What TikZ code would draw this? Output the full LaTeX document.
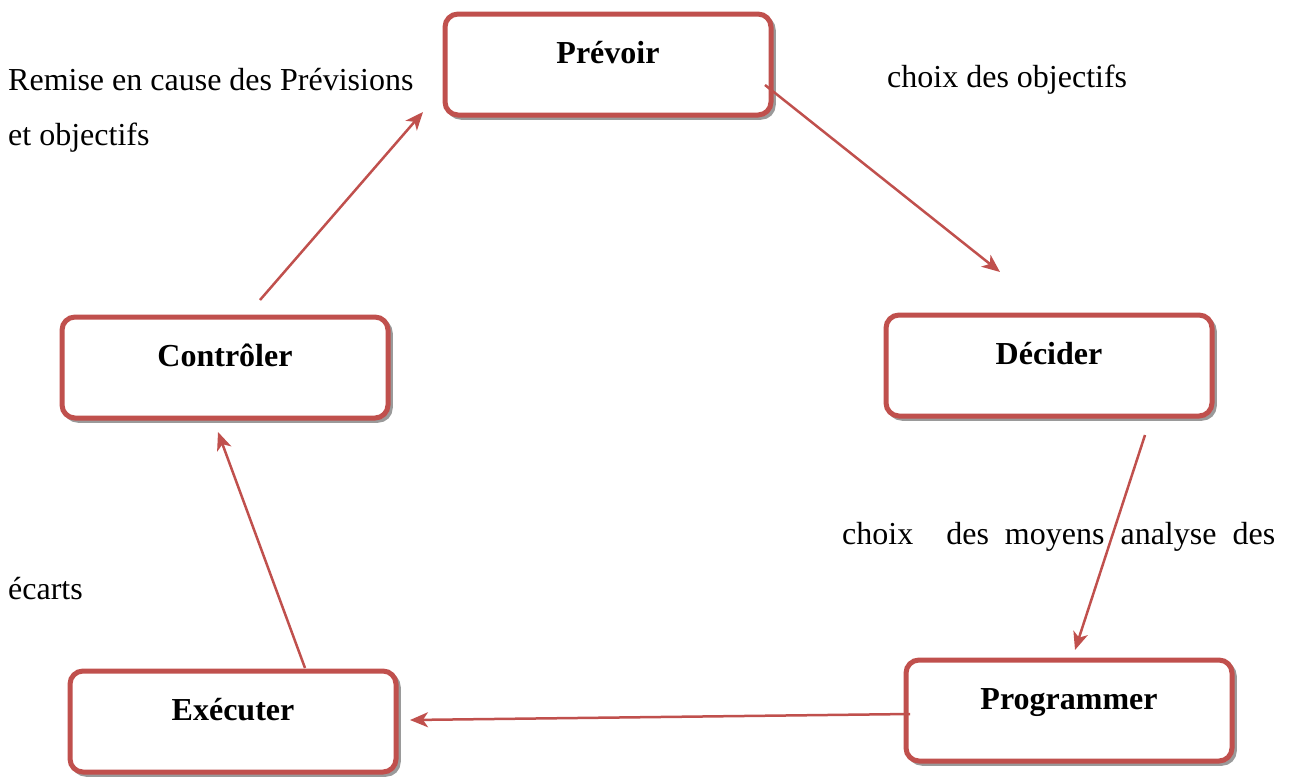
\documentclass[tikz,border=0pt]{standalone}
\usepackage{fontspec}
\setmainfont{Liberation Serif}
\usetikzlibrary{arrows.meta,shadows,calc}
\definecolor{boxred}{HTML}{C0504D}
\definecolor{shade}{HTML}{9A9A9A}
\tikzset{
  stagebox/.style={draw=boxred, line width=5pt, fill=white, rounded corners=13pt,
    minimum width=326pt, inner sep=0pt, outer sep=0pt,
    text height=49pt, text depth=52pt, anchor=north,
    font=\fontsize{32}{38}\selectfont\bfseries,
    copy shadow={shadow xshift=3pt, shadow yshift=-3pt, draw=shade, fill=shade!60, line width=3.5pt}},
  flow/.style={draw=boxred, line width=2.5pt, -{Stealth[length=18pt,width=15pt,inset=5pt]}},
  note/.style={anchor=base west, inner sep=0pt, font=\fontsize{32}{38}\selectfont}
}
\begin{document}
\begin{tikzpicture}[x=1pt,y=-1pt]
  \useasboundingbox (0,0) rectangle (1289,779);

  % the five stages of the management cycle
  \node[stagebox] (prevoir)  at (608,14)  {Prévoir};
  \node[stagebox] (decider)  at (1049,315) {Décider};
  \node[stagebox] (program)  at (1069,660) {Programmer};
  \node[stagebox] (executer) at (233,671) {Exécuter};
  \node[stagebox] (controle) at (225,317) {Contrôler};

  % end points of the arrows, slightly off the boxes
  \coordinate (p1) at (765,85);   \coordinate (d1) at (1000,272);
  \coordinate (d2) at (1145,435); \coordinate (g1) at (1075,650);
  \coordinate (g2) at (910,714);  \coordinate (e1) at (410,720);
  \coordinate (e2) at (305,668);  \coordinate (c1) at (218,432);
  \coordinate (c2) at (260,300);  \coordinate (p2) at (423,112);

  \draw[flow] (p1) -- (d1);
  \draw[flow] (d2) -- (g1);
  \draw[flow] (g2) -- (e1);
  \draw[flow] (e2) -- (c1);
  \draw[flow] (c2) -- (p2);

  % captions
  \node[note] (t1) at (8,90)   {Remise en cause des Prévisions};
  \node[note] (t2) at (8,145)  {et objectifs};
  \node[note] (t3) at (887,87) {choix des objectifs};
  \node[note] (t4) at (842,544) {\hbox to 433pt{choix\hspace{17pt}\hfill des\hfill moyens\hfill analyse\hfill des}};
  \node[note] (t5) at (8,599)  {écarts};
\end{tikzpicture}
\end{document}
